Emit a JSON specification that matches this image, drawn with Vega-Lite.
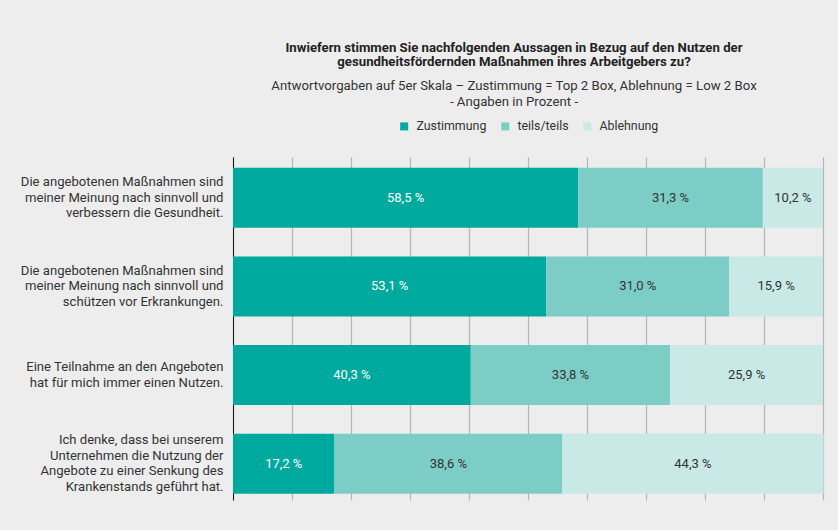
{
  "$schema": "https://vega.github.io/schema/vega-lite/v6.json",
  "width": 590,
  "height": 343,
  "padding": {"left": 20, "top": 40, "right": 18, "bottom": 30},
  "background": "#ededed",
  "title": {
    "text": ["Inwiefern stimmen Sie nachfolgenden Aussagen in Bezug auf den Nutzen der", "gesundheitsfördernden Maßnahmen  ihres Arbeitgebers zu?"],
    "subtitle": ["Antwortvorgaben auf 5er Skala – Zustimmung = Top 2 Box, Ablehnung = Low 2 Box", "- Angaben in Prozent -"],
    "anchor": "middle",
    "frame": "group",
    "dx": -14,
    "font": "Roboto",
    "fontSize": 13.2,
    "fontWeight": "bold",
    "lineHeight": 14,
    "color": "#222222",
    "subtitleFont": "Roboto",
    "subtitleFontSize": 13.2,
    "subtitleLineHeight": 16,
    "subtitleColor": "#333333",
    "subtitlePadding": 11,
    "offset": 11
  },
  "data": {
    "values": [
      {"statement": "Die angebotenen Maßnahmen sind|meiner Meinung nach sinnvoll und|verbessern die Gesundheit.", "response": "Zustimmung", "value": 58.5},
      {"statement": "Die angebotenen Maßnahmen sind|meiner Meinung nach sinnvoll und|verbessern die Gesundheit.", "response": "teils/teils", "value": 31.3},
      {"statement": "Die angebotenen Maßnahmen sind|meiner Meinung nach sinnvoll und|verbessern die Gesundheit.", "response": "Ablehnung", "value": 10.2},
      {"statement": "Die angebotenen Maßnahmen sind|meiner Meinung nach sinnvoll und|schützen vor Erkrankungen.", "response": "Zustimmung", "value": 53.1},
      {"statement": "Die angebotenen Maßnahmen sind|meiner Meinung nach sinnvoll und|schützen vor Erkrankungen.", "response": "teils/teils", "value": 31.0},
      {"statement": "Die angebotenen Maßnahmen sind|meiner Meinung nach sinnvoll und|schützen vor Erkrankungen.", "response": "Ablehnung", "value": 15.9},
      {"statement": "Eine Teilnahme an den Angeboten|hat für mich immer einen Nutzen.", "response": "Zustimmung", "value": 40.3},
      {"statement": "Eine Teilnahme an den Angeboten|hat für mich immer einen Nutzen.", "response": "teils/teils", "value": 33.8},
      {"statement": "Eine Teilnahme an den Angeboten|hat für mich immer einen Nutzen.", "response": "Ablehnung", "value": 25.9},
      {"statement": "Ich denke, dass bei unserem|Unternehmen die Nutzung der|Angebote zu einer Senkung des|Krankenstands geführt hat.", "response": "Zustimmung", "value": 17.2},
      {"statement": "Ich denke, dass bei unserem|Unternehmen die Nutzung der|Angebote zu einer Senkung des|Krankenstands geführt hat.", "response": "teils/teils", "value": 38.6},
      {"statement": "Ich denke, dass bei unserem|Unternehmen die Nutzung der|Angebote zu einer Senkung des|Krankenstands geführt hat.", "response": "Ablehnung", "value": 44.3}
    ]
  },
  "transform": [
    {"calculate": "indexof(['Zustimmung','teils/teils','Ablehnung'], datum.response)", "as": "ord"},
    {"stack": "value", "groupby": ["statement"], "sort": [{"field": "ord", "order": "ascending"}], "as": ["x0", "x1"]},
    {"calculate": "(datum.x0 + datum.x1) / 2", "as": "mid"},
    {"calculate": "replace(format(datum.value, '.1f'), '.', ',') + ' %'", "as": "lbl"}
  ],
  "encoding": {
    "y": {
      "field": "statement",
      "type": "nominal",
      "sort": null,
      "title": null,
      "scale": {"paddingInner": 0.323, "paddingOuter": 0.096, "align": 0.63},
      "axis": {
        "labelExpr": "split(datum.label, '|')",
        "labelFont": "Roboto",
        "labelFontSize": 13.1,
        "labelLineHeight": 15.5,
        "labelColor": "#333333",
        "labelPadding": 10,
        "labelLimit": 300,
        "labelOffset": {
          "condition": [
            {"test": "indexof(datum.value, 'Krankenstands') >= 0", "value": -23.25},
            {"test": "indexof(datum.value, 'Teilnahme') >= 0", "value": -7.75}
          ],
          "value": -15.5
        },
        "ticks": false,
        "domainColor": "#111111",
        "domainWidth": 1,
        "minExtent": 210,
        "maxExtent": 210,
        "grid": false
      }
    }
  },
  "layer": [
    {
      "mark": {"type": "bar"},
      "encoding": {
        "x": {
          "field": "x0",
          "type": "quantitative",
          "scale": {"domain": [0, 100], "nice": false},
          "title": null,
          "axis": {
            "values": [0, 10, 20, 30, 40, 50, 60, 70, 80, 90, 100],
            "labels": false,
            "ticks": false,
            "domain": false,
            "grid": true,
            "gridColor": "#b5b5b5",
            "gridWidth": 1.2
          }
        },
        "x2": {"field": "x1"},
        "color": {
          "field": "response",
          "type": "nominal",
          "sort": ["Zustimmung", "teils/teils", "Ablehnung"],
          "scale": {"domain": ["Zustimmung", "teils/teils", "Ablehnung"], "range": ["#00a99d", "#7dcdc7", "#c8e9e5"]},
          "legend": {
            "title": null,
            "orient": "top",
            "direction": "horizontal",
            "symbolType": "square",
            "symbolSize": 64,
            "symbolStrokeWidth": 0,
            "labelFont": "Roboto",
            "labelFontSize": 12.4,
            "labelColor": "#333333",
            "columnPadding": 12,
            "labelOffset": 6,
            "offset": 24
          }
        }
      }
    },
    {
      "mark": {"type": "text", "font": "Roboto", "fontSize": 13},
      "encoding": {
        "x": {"field": "mid", "type": "quantitative"},
        "text": {"field": "lbl"},
        "color": {
          "condition": {"test": "datum.response === 'Zustimmung'", "value": "#ffffff"},
          "value": "#333333"
        }
      }
    }
  ],
  "config": {
    "view": {"stroke": null},
    "legend": {"layout": {"top": {"anchor": "middle"}}}
  }
}
